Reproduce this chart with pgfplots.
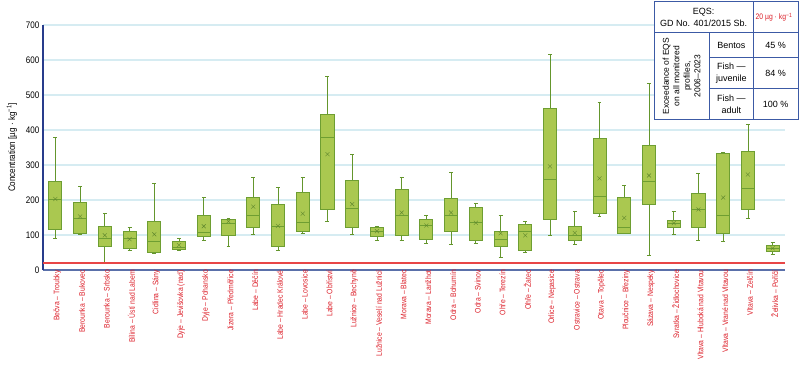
\documentclass[border=0pt]{standalone}
\usepackage{fontspec}
\setmainfont{Liberation Sans}
\newfontfamily\narrow[FakeStretch=0.85]{Liberation Sans}
\usepackage{pgfplots}
\pgfplotsset{compat=1.18}
\usepgfplotslibrary{statistics}
\definecolor{boxfill}{RGB}{170,200,80}
\definecolor{boxborder}{RGB}{110,158,50}
\definecolor{whisk}{RGB}{100,150,45}
\definecolor{meancol}{RGB}{95,135,45}
\definecolor{gridcol}{RGB}{214,236,242}
\definecolor{labred}{RGB}{220,30,40}
\definecolor{eqsred}{RGB}{232,70,70}
\definecolor{xblue}{RGB}{90,112,170}
\definecolor{ynavy}{RGB}{40,60,140}
\definecolor{tabblue}{RGB}{60,90,165}
\begin{document}
\begin{tikzpicture}
\path[use as bounding box] (-43pt,-102pt) rectangle (757pt,270pt);
\begin{axis}[
  at={(0,0)}, anchor=south west, scale only axis,
  width=742pt, height=245pt,
  xmin=0.5, xmax=30.5, ymin=0, ymax=700,
  ytick={0,100,...,700},
  xtick={1,...,30},
  xticklabels={Bečva – Troubky, Berounka – Bukovec, Berounka – Srbsko, Bílina – Ústí nad Labem, Cidlina – Sány, Dyje – Jevišovka (nad), Dyje – Pohansko, Jizera – Předměřice, Labe – Děčín, Labe – Hradec Králové, Labe – Lovosice, Labe – Obříství, Lužnice – Bechyně, Lužnice – Veselí nad Lužnicí, Morava – Blatec, Morava – Lanžhot, Odra – Bohumín, Odra – Svinov, Ohře – Terezín, Ohře – Žatec, Orlice – Nepasice, Ostravice – Ostrava, Otava – Topělec, Ploučnice – Březiny, Sázava – Nespeky, Svratka – Židlochovice, Vltava – Hluboká nad Vltavou, Vltava – Vrané nad Vltavou, Vltava – Zelčín, Želivka – Poříčí},
  xticklabel style={rotate=90, anchor=east, font=\narrow\fontsize{8}{9}\selectfont, text=labred, inner sep=0pt, yshift=-2pt},
  yticklabel style={font=\narrow\fontsize{9.5}{10}\selectfont},
  /pgf/number format/assume math mode=true,
  major tick length=0pt,
  ymajorgrids, grid style={gridcol, line width=1.5pt},
  axis x line=bottom, axis y line=left,
  x axis line style={-, draw=xblue, line width=2.5pt},
  y axis line style={-, draw=ynavy, line width=1.5pt},
  ylabel={Concentration [µg · kg\textsuperscript{−1}]},
  every axis y label/.style={at={(rel axis cs:0,0.5)}, xshift=-31pt, rotate=90, anchor=center, font=\narrow\fontsize{9.5}{10}\selectfont},
  xtick style={draw=none},
  clip=false,
  boxplot/draw direction=y,
  boxplot/box extend=0.53,
  boxplot/whisker extend=0.16,
  boxplot/every box/.style={draw=boxborder, fill=boxfill, line width=0.9pt},
  boxplot/every whisker/.style={draw=whisk, line width=0.8pt},
  boxplot/every median/.style={draw=boxborder, line width=1pt},
  boxplot/every average/.style={/tikz/color=meancol, /tikz/mark=x, /tikz/mark size=2.8pt, /tikz/draw=meancol, /tikz/fill=none, /tikz/line width=0.7pt, /tikz/mark options={color=meancol, draw=meancol, fill=none}},
  bp/.style={color=meancol, mark=x, mark size=2.8pt, mark options={color=meancol, draw=meancol, line width=0.7pt}},
]
\addplot[bp, boxplot prepared={draw position=1, lower whisker=89, lower quartile=117, median=201, upper quartile=253, upper whisker=380, average=203}] coordinates {};
\addplot[bp, boxplot prepared={draw position=2, lower whisker=102, lower quartile=105, median=147, upper quartile=192, upper whisker=240, average=153}] coordinates {};
\addplot[bp, boxplot prepared={draw position=3, lower whisker=21, lower quartile=68, median=91, upper quartile=125, upper whisker=161, average=99}] coordinates {};
\addplot[bp, boxplot prepared={draw position=4, lower whisker=55, lower quartile=61, median=91, upper quartile=109, upper whisker=122, average=88}] coordinates {};
\addplot[bp, boxplot prepared={draw position=5, lower whisker=47, lower quartile=51, median=81, upper quartile=138, upper whisker=248, average=102}] coordinates {};
\addplot[bp, boxplot prepared={draw position=6, lower whisker=56, lower quartile=60, median=65, upper quartile=81, upper whisker=89, average=71}] coordinates {};
\addplot[bp, boxplot prepared={draw position=7, lower whisker=84, lower quartile=96, median=107, upper quartile=157, upper whisker=208, average=125}] coordinates {};
\addplot[bp, boxplot prepared={draw position=8, lower whisker=67, lower quartile=98, median=133, upper quartile=145, upper whisker=147, average=139}] coordinates {};
\addplot[bp, boxplot prepared={draw position=9, lower whisker=101, lower quartile=121, median=155, upper quartile=207, upper whisker=265, average=181}] coordinates {};
\addplot[bp, boxplot prepared={draw position=10, lower whisker=55, lower quartile=67, median=125, upper quartile=186, upper whisker=237, average=126}] coordinates {};
\addplot[bp, boxplot prepared={draw position=11, lower whisker=106, lower quartile=111, median=136, upper quartile=222, upper whisker=266, average=161}] coordinates {};
\addplot[bp, boxplot prepared={draw position=12, lower whisker=138, lower quartile=172, median=380, upper quartile=444, upper whisker=553, average=331}] coordinates {};
\addplot[bp, boxplot prepared={draw position=13, lower whisker=101, lower quartile=123, median=175, upper quartile=255, upper whisker=330, average=188}] coordinates {};
\addplot[bp, boxplot prepared={draw position=14, lower whisker=84, lower quartile=97, median=111, upper quartile=123, upper whisker=124, average=111}] coordinates {};
\addplot[bp, boxplot prepared={draw position=15, lower whisker=84, lower quartile=98, median=155, upper quartile=230, upper whisker=266, average=164}] coordinates {};
\addplot[bp, boxplot prepared={draw position=16, lower whisker=76, lower quartile=88, median=127, upper quartile=145, upper whisker=155, average=127}] coordinates {};
\addplot[bp, boxplot prepared={draw position=17, lower whisker=74, lower quartile=111, median=155, upper quartile=204, upper whisker=279, average=164}] coordinates {};
\addplot[bp, boxplot prepared={draw position=18, lower whisker=77, lower quartile=85, median=135, upper quartile=178, upper whisker=190, average=135}] coordinates {};
\addplot[bp, boxplot prepared={draw position=19, lower whisker=36, lower quartile=68, median=88, upper quartile=111, upper whisker=155, average=105}] coordinates {};
\addplot[bp, boxplot prepared={draw position=20, lower whisker=49, lower quartile=55, median=109, upper quartile=131, upper whisker=138, average=99}] coordinates {};
\addplot[bp, boxplot prepared={draw position=21, lower whisker=98, lower quartile=144, median=259, upper quartile=461, upper whisker=617, average=296}] coordinates {};
\addplot[bp, boxplot prepared={draw position=22, lower whisker=74, lower quartile=84, median=98, upper quartile=125, upper whisker=167, average=106}] coordinates {};
\addplot[bp, boxplot prepared={draw position=23, lower whisker=154, lower quartile=163, median=211, upper quartile=376, upper whisker=480, average=262}] coordinates {};
\addplot[bp, boxplot prepared={draw position=24, lower whisker=104, lower quartile=105, median=121, upper quartile=208, upper whisker=242, average=149}] coordinates {};
\addplot[bp, boxplot prepared={draw position=25, lower whisker=41, lower quartile=188, median=252, upper quartile=356, upper whisker=534, average=270}] coordinates {};
\addplot[bp, boxplot prepared={draw position=26, lower whisker=101, lower quartile=123, median=134, upper quartile=143, upper whisker=168, average=134}] coordinates {};
\addplot[bp, boxplot prepared={draw position=27, lower whisker=84, lower quartile=122, median=173, upper quartile=220, upper whisker=276, average=173}] coordinates {};
\addplot[bp, boxplot prepared={draw position=28, lower whisker=82, lower quartile=104, median=156, upper quartile=333, upper whisker=336, average=207}] coordinates {};
\addplot[bp, boxplot prepared={draw position=29, lower whisker=147, lower quartile=174, median=232, upper quartile=338, upper whisker=417, average=273}] coordinates {};
\addplot[bp, boxplot prepared={draw position=30, lower whisker=46, lower quartile=54, median=62, upper quartile=71, upper whisker=80, average=62}] coordinates {};
\addplot[eqsred, line width=1.3pt, mark=none] coordinates {(0.5,20) (30.5,20)};
\end{axis}
% table
\begin{scope}[every node/.style={font=\fontsize{9}{11}\selectfont, align=center, inner sep=0pt}]
\fill[white] (611pt,150.5pt) rectangle (755pt,268pt);
\draw[tabblue, line width=1pt] (611pt,150.5pt) rectangle (755pt,268pt);
\draw[tabblue, line width=1pt] (611pt,237.7pt) -- (755pt,237.7pt);
\draw[tabblue, line width=1pt] (666.3pt,212pt) -- (755pt,212pt);
\draw[tabblue, line width=1pt] (666.3pt,181pt) -- (755pt,181pt);
\draw[tabblue, line width=1pt] (666.3pt,150.5pt) -- (666.3pt,237.7pt);
\draw[tabblue, line width=1pt] (710.3pt,150.5pt) -- (710.3pt,268pt);
\node at (660.6pt,252.8pt) {EQS:\\[1pt]GD No. 401/2015 Sb.};
\node[text=labred, font=\narrow\fontsize{8}{9}\selectfont] at (731pt,252.8pt) {20 µg · kg\textsuperscript{−1}};
\node at (688.3pt,224.8pt) {Bentos};
\node at (688.3pt,196.5pt) {Fish —\\[1pt]juvenile};
\node at (688.3pt,165.7pt) {Fish —\\[1pt]adult};
\node at (732.6pt,224.8pt) {45 \%};
\node at (732.6pt,196.5pt) {84 \%};
\node at (732.6pt,165.7pt) {100 \%};
\node[rotate=90, font=\fontsize{8.5}{10.5}\selectfont] at (638.6pt,194pt) {Exceedance of EQS\\on all monitored\\profiles,\\2006–2023};
\end{scope}
\end{tikzpicture}
\end{document}
